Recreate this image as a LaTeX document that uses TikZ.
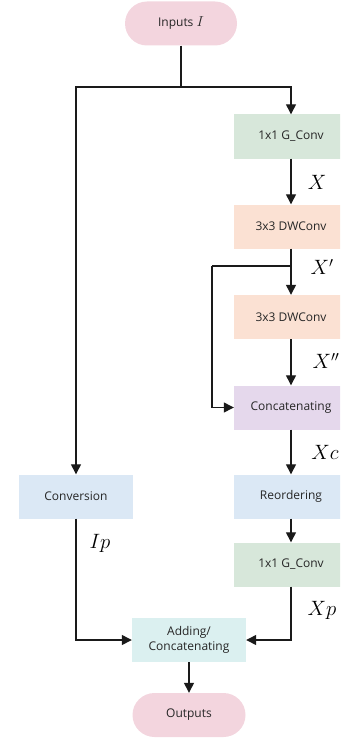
\documentclass[tikz,border=0pt]{standalone}
\usepackage{fontspec}
\setmainfont{Open Sans}
\usetikzlibrary{arrows.meta,shapes.misc}
\definecolor{pinkc}{HTML}{F3D5DE}
\definecolor{greenc}{HTML}{D7E7DA}
\definecolor{orangec}{HTML}{FBE1D3}
\definecolor{purplec}{HTML}{E5D8EC}
\definecolor{bluec}{HTML}{DBE8F5}
\definecolor{cyanc}{HTML}{DBF0F0}
\definecolor{linec}{HTML}{1A1A1A}
\tikzset{
  boxbase/.style={rectangle, minimum width=114pt, minimum height=44pt, inner sep=0pt, align=center,
    font=\fontsize{12}{14.5}\selectfont, text=black!85},
  pill/.style={boxbase, rounded rectangle, fill=pinkc, minimum width=112pt},
  gbox/.style={boxbase, fill=greenc},
  obox/.style={boxbase, fill=orangec},
  pbox/.style={boxbase, fill=purplec},
  bbox/.style={boxbase, fill=bluec},
  cbox/.style={boxbase, fill=cyanc},
  arr/.style={draw=linec, line width=1.3pt, -{Triangle[width=10pt,length=10pt]}},
  ln/.style={draw=linec, line width=1.3pt},
  lab/.style={font=\fontsize{20}{22}\selectfont, inner sep=0pt}
}
\begin{document}
\begin{tikzpicture}[x=1pt,y=-1pt]
\useasboundingbox (0,0) rectangle (340,741);
\clip (0,0) rectangle (340,741);
\node[pill] (inputs) at (181,23.5) {Inputs {\fontsize{15}{16}\selectfont$I$}};
\node[gbox] (g1) at (291,136.5) {1x1 G\_Conv};
\node[obox] (dw1) at (291,226.5) {3x3 DWConv};
\node[obox] (dw2) at (291,317) {3x3 DWConv};
\node[pbox] (cat) at (291,407.5) {Concatenating};
\node[bbox] (conv) at (76,496.5) {Conversion};
\node[bbox] (reord) at (291,496.5) {Reordering};
\node[gbox] (g2) at (291,564.5) {1x1 G\_Conv};
\node[cbox] (add) at (189,640) {Adding/\\Concatenating};
\node[pill, minimum width=113pt] (out) at (189,715) {Outputs};

\coordinate (split) at (181,87);
\coordinate (br) at (291,266);
\coordinate (bl) at (212,266);

\draw[ln] (inputs.south) -- (split);
\draw[arr] (split) -| (g1.north);
\draw[arr] (split) -| (conv.north);
\draw[arr] (g1.south) -- (dw1.north);
\draw[arr] (dw1.south) -- (dw2.north);
\draw[ln] (br) -- (bl);
\draw[arr] (bl) |- (cat.west);
\draw[arr] (dw2.south) -- (cat.north);
\draw[arr] (cat.south) -- (reord.north);
\draw[arr] (reord.south) -- (g2.north);
\draw[arr] (conv.south) |- (add.west);
\draw[arr] (g2.south) |- (add.east);
\draw[arr] (add.south) -- (out.north);

\node[lab] (lx) at (317,182) {$X$};
\node[lab] (lx1) at (322,267) {$X'$};
\node[lab] (lx2) at (326,361) {$X''$};
\node[lab] (lxc) at (325,452) {$Xc$};
\node[lab] (lip) at (100,543) {$Ip$};
\node[lab] (lxp) at (322,610) {$Xp$};
\end{tikzpicture}
\end{document}
